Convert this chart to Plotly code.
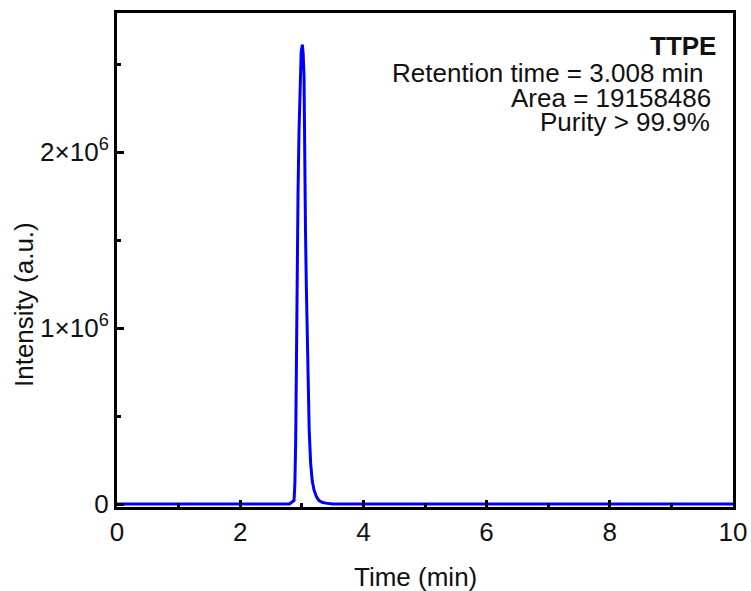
import plotly.graph_objects as go

# Data
time_min = [0, 2.80, 2.874, 2.888, 2.901, 2.917, 2.939, 2.955, 2.971, 2.990, 3.009,
            3.022, 3.036, 3.047, 3.060, 3.074, 3.087, 3.101, 3.120, 3.144, 3.170,
            3.198, 3.240, 3.279, 3.330, 3.387, 3.50, 10]
intensity = [0, 0, 0.02e6, 0.12e6, 0.36e6, 1.20e6, 1.77e6, 2.12e6, 2.43e6, 2.57e6, 2.61e6,
             2.56e6, 2.43e6, 1.90e6, 1.55e6, 1.23e6, 0.93e6, 0.66e6, 0.42e6, 0.23e6, 0.13e6,
             0.08e6, 0.04e6, 0.02e6, 0.01e6, 0.005e6, 0, 0]

x_ticks = [0, 2, 4, 6, 8, 10]
y_tickvals = [0, 1e6, 2e6]
y_ticktext = ["0", "1×10<sup>6</sup>", "2×10<sup>6</sup>"]
y_minor = [0.5e6, 1.5e6, 2.5e6]
info_lines = ["<b>TTPE</b>", "Retention time = 3.008 min ", "Area = 19158486", "Purity > 99.9%"]

FONT = "Liberation Sans, Arial, sans-serif"
W, H = 751, 591
L, R, T, B = 117, 18, 13, 84

fig = go.Figure()
fig.add_trace(go.Scatter(x=time_min, y=intensity, mode="lines",
                         line=dict(color="#0000FF", width=3), showlegend=False))

fig.update_layout(
    width=W, height=H,
    margin=dict(l=L, r=R, t=T, b=B, autoexpand=False),
    paper_bgcolor="white", plot_bgcolor="white",
    font=dict(family=FONT, size=26, color="#111111"),
)
fig.update_xaxes(
    automargin=False,
    range=[0, 10], tickvals=x_ticks, ticktext=[str(v) for v in x_ticks],
    showline=True, linecolor="black", linewidth=3, mirror=True,
    ticks="inside", ticklen=7, tickwidth=3, tickcolor="black",
    minor=dict(tickvals=[1, 3, 5, 7, 9], ticks="inside", ticklen=4, tickwidth=3, tickcolor="black"),
    showgrid=False, zeroline=False, tickfont=dict(size=26),
)
fig.update_yaxes(
    automargin=False,
    range=[-0.017e6, 2.79e6], tickvals=y_tickvals, ticktext=y_ticktext,
    showline=True, linecolor="black", linewidth=3, mirror=True,
    ticks="inside", ticklen=7, tickwidth=3, tickcolor="black",
    minor=dict(tickvals=y_minor, ticks="inside", ticklen=4, tickwidth=3, tickcolor="black"),
    showgrid=False, zeroline=False, tickfont=dict(size=26),
)

pw = W - L - R
ph = H - T - B
def px_x(x):
    return (x - L) / pw
def px_y(y):
    return 1 - (y - T) / ph

# axis titles as annotations
fig.add_annotation(text="Time (min)", x=px_x(415), y=px_y(577), xref="paper", yref="paper",
                   showarrow=False, xanchor="center", yanchor="middle", font=dict(size=26))
fig.add_annotation(text="Intensity (a.u.)", x=px_x(24), y=px_y(305), xref="paper", yref="paper",
                   showarrow=False, xanchor="center", yanchor="middle", textangle=-90,
                   font=dict(size=26))

# info text
line_y = [46, 73, 98, 122]
line_x = [718, 713, 713, 712]
for txt, yy, xx in zip(info_lines, line_y, line_x):
    fig.add_annotation(text=txt, x=px_x(xx), y=px_y(yy), xref="paper", yref="paper",
                       showarrow=False, xanchor="right", yanchor="middle", font=dict(size=26))

fig.write_html("out.html")
